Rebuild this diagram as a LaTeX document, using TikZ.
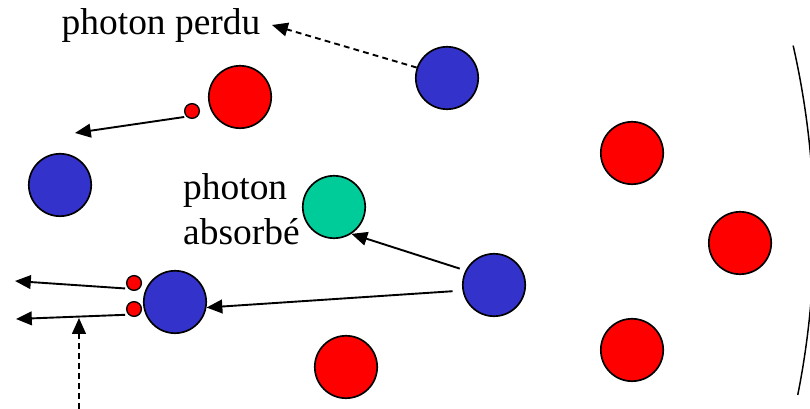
\documentclass[tikz,border=0pt]{standalone}
\usepackage{fontspec}
\setmainfont{Liberation Serif}
\usetikzlibrary{arrows.meta}
\definecolor{ionred}{RGB}{255,0,0}
\definecolor{ionblue}{RGB}{51,51,204}
\definecolor{iongreen}{RGB}{0,204,153}
\tikzset{
    ion/.style = {
        circle,
        draw=black,
        line width=1.6pt,
        minimum size=2.08cm,
        inner sep=0pt,
        fill=#1
    },
    photon/.style = {
        circle,
        draw=black,
        line width=1.3pt,
        minimum size=0.49cm,
        inner sep=0pt,
        fill=ionred
    },
    ray/.style = {
        line width=1.8pt,
        -{Triangle[length=15pt,width=13pt]}
    },
    lost/.style = {
        ray,
        dash pattern=on 5.5pt off 4pt
    },
    caption/.style = {
        font=\rmfamily\fontsize{35.5}{42.5}\selectfont,
        inner sep=0pt
    }
}

\begin{document}
\begin{tikzpicture}
    \useasboundingbox (0,0) rectangle (27,13.633);
    \clip (0,0) rectangle (27,13.633);

    % Draw all ions
    \node[ion=ionblue]  (blueTop)   at (14.9,11.033) {};
    \node[ion=ionred]   (redTop)    at (8.0,10.4)    {};
    \node[ion=ionblue]  (blueLeft)  at (2.0,7.467)   {};
    \node[ion=ionred]   (redA)      at (21.067,8.533) {};
    \node[ion=iongreen] (green)     at (11.133,6.733) {};
    \node[ion=ionred]   (redB)      at (24.667,5.533) {};
    \node[ion=ionblue]  (blueRight) at (16.467,4.133) {};
    \node[ion=ionblue]  (blueMid)   at (5.833,3.567) {};
    \node[ion=ionred]   (redC)      at (11.533,1.4)  {};
    \node[ion=ionred]   (redD)      at (21.067,1.967) {};

    % Draw photons
    \node[photon] (sparkTop) at (6.4,9.933) {};
    \node[photon] (sparkA)   at (4.467,4.2)  {};
    \node[photon] (sparkB)   at (4.467,3.333) {};

    % Draw labels
    \node[caption, anchor=base west] (perdu) at (2.05,12.467) {photon perdu};
    \node[caption, anchor=north west, align=left] (absorbe) at (6.1,7.85) {photon\\absorbé};

    % Free ends of the rays
    \coordinate (lostEnd)  at (9.067,12.8);
    \coordinate (outTop)   at (2.5,9.2);
    \coordinate (outA)     at (0.5,4.267);
    \coordinate (outB)     at (0.533,3.0);
    \coordinate (inBottom) at (2.633,0);
    \coordinate (inTop)    at (2.633,3.033);

    % Draw arrows
    \draw[lost] (blueTop.161) -- (lostEnd);
    \draw[ray, shorten <=2pt] (sparkTop.south west) -- (outTop);
    \draw[ray, shorten <=0.2cm] (blueRight.153) -- (green.-57);
    \draw[ray, shorten <=0.33cm] (blueRight.190) -- (blueMid.-10);
    \draw[ray, shorten <=3pt] (sparkA.south west) -- (outA);
    \draw[ray, shorten <=3pt] (sparkB.south west) -- (outB);
    \draw[lost] (inBottom) -- (inTop);

    % Draw the wall
    \draw[line width=1.4pt] (-0.767,5.933) ++(-11.3:27.9) arc[start angle=-11.3, end angle=12.8, radius=27.9];
\end{tikzpicture}
\end{document}
